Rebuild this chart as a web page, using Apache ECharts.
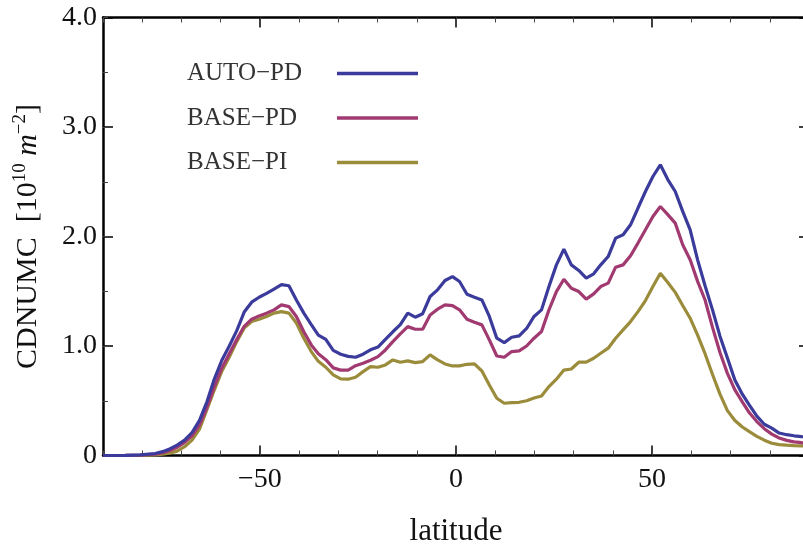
<!DOCTYPE html>
<html>
<head>
<meta charset="utf-8">
<script src="https://cdn.jsdelivr.net/npm/echarts@6/dist/echarts.min.js"></script>
<style>
html,body{margin:0;padding:0;background:#fff;overflow:hidden;}
#chart{width:803px;height:546px;}
</style>
</head>
<body>
<div id="chart"></div>
<script>
const lat = [-90, -84.3, -80.5, -76.7, -74.8, -73.0, -71.1, -69.2, -67.3, -65.4, -63.5, -61.6, -59.7, -57.8, -55.9, -54.0, -52.1, -50.2, -48.3, -46.4, -44.5, -42.6, -40.7, -38.8, -36.9, -35.1, -33.2, -31.3, -29.4, -27.5, -25.6, -23.7, -21.8, -19.9, -18.0, -16.1, -14.2, -12.3, -10.4, -8.5, -6.6, -4.7, -2.8, -0.9, 0.9, 2.8, 4.7, 6.6, 8.5, 10.4, 12.3, 14.2, 16.1, 18.0, 19.9, 21.8, 23.7, 25.6, 27.5, 29.4, 31.3, 33.2, 35.1, 36.9, 38.8, 40.7, 42.6, 44.5, 46.4, 48.3, 50.2, 52.1, 54.0, 55.9, 57.8, 59.7, 61.6, 63.5, 65.4, 67.3, 69.2, 71.1, 73.0, 74.8, 76.7, 78.6, 80.5, 82.4, 84.3, 86.2, 88.1, 90];

const autoPD = [0.0, 0.002, 0.006, 0.018, 0.035, 0.06, 0.095, 0.14, 0.21, 0.32, 0.49, 0.70, 0.87, 1.00, 1.14, 1.31, 1.40, 1.445, 1.48, 1.52, 1.56, 1.55, 1.42, 1.30, 1.195, 1.10, 1.06, 0.96, 0.925, 0.905, 0.897, 0.925, 0.965, 0.99, 1.06, 1.13, 1.195, 1.30, 1.263, 1.295, 1.452, 1.513, 1.598, 1.634, 1.589, 1.473, 1.446, 1.421, 1.27, 1.071, 1.031, 1.08, 1.092, 1.16, 1.27, 1.33, 1.543, 1.741, 1.885, 1.741, 1.69, 1.62, 1.659, 1.741, 1.817, 1.985, 2.016, 2.107, 2.26, 2.411, 2.548, 2.655, 2.52, 2.411, 2.229, 2.06, 1.787, 1.55, 1.33, 1.09, 0.89, 0.69, 0.56, 0.46, 0.36, 0.285, 0.25, 0.205, 0.19, 0.18, 0.172, 0.168];

const basePD = [0.0, 0.001, 0.004, 0.012, 0.025, 0.045, 0.075, 0.12, 0.18, 0.28, 0.44, 0.63, 0.80, 0.93, 1.06, 1.18, 1.245, 1.275, 1.30, 1.33, 1.376, 1.36, 1.27, 1.13, 1.01, 0.93, 0.875, 0.80, 0.78, 0.78, 0.82, 0.843, 0.87, 0.903, 0.964, 1.04, 1.11, 1.177, 1.153, 1.153, 1.284, 1.336, 1.376, 1.369, 1.33, 1.245, 1.217, 1.193, 1.056, 0.909, 0.897, 0.949, 0.955, 1.0, 1.071, 1.132, 1.33, 1.497, 1.61, 1.528, 1.497, 1.428, 1.476, 1.543, 1.574, 1.72, 1.741, 1.824, 1.94, 2.061, 2.183, 2.274, 2.20, 2.122, 1.924, 1.787, 1.59, 1.42, 1.17, 0.94, 0.75, 0.60, 0.49, 0.39, 0.31, 0.245, 0.195, 0.16, 0.138, 0.125, 0.117, 0.113];

const basePI = [0.0, 0.0, 0.002, 0.006, 0.012, 0.022, 0.04, 0.08, 0.14, 0.24, 0.42, 0.60, 0.77, 0.90, 1.04, 1.165, 1.223, 1.245, 1.27, 1.30, 1.314, 1.30, 1.21, 1.071, 0.949, 0.86, 0.806, 0.736, 0.70, 0.697, 0.715, 0.766, 0.812, 0.806, 0.827, 0.873, 0.852, 0.864, 0.848, 0.858, 0.919, 0.873, 0.836, 0.818, 0.818, 0.833, 0.836, 0.772, 0.644, 0.523, 0.477, 0.483, 0.486, 0.50, 0.525, 0.544, 0.629, 0.697, 0.78, 0.79, 0.852, 0.852, 0.888, 0.934, 0.98, 1.071, 1.147, 1.223, 1.314, 1.415, 1.543, 1.665, 1.58, 1.49, 1.37, 1.254, 1.10, 0.93, 0.74, 0.56, 0.41, 0.32, 0.26, 0.218, 0.175, 0.14, 0.112, 0.10, 0.094, 0.09, 0.088, 0.087];

const seriesNames = ['AUTO\u2212PD', 'BASE\u2212PD', 'BASE\u2212PI'];
const seriesColors = ['#3b3b9c', '#a03a70', '#9b8c3c'];
const xTickValues = [-50, 0, 50];
const xTickLabels = ['\u221250', '0', '50'];
const yTickValues = [0, 1, 2, 3, 4];
const yTickLabels = ['0', '1.0', '2.0', '3.0', '4.0'];

const FONT = '"Liberation Serif", "DejaVu Serif", serif';
const chart = echarts.init(document.getElementById('chart'), null, {renderer: 'canvas'});

function pairs(ys) { return lat.map((x, i) => [x, ys[i]]); }
const gridBox = {left: 103, top: 17.5, width: 706, height: 438, outerBoundsMode: 'none', containLabel: false};

const majorX = (pos, showLabel) => ({
  type: 'value', position: pos, min: -90, max: 90,
  axisLine: {show: true, onZero: false, lineStyle: {color: '#000', width: 2.5}},
  axisTick: {show: true, inside: true, length: 10, customValues: xTickValues, lineStyle: {color: '#000', width: 1.5}},
  axisLabel: {show: showLabel, customValues: xTickValues, margin: 10, fontFamily: FONT, fontSize: 28, color: '#111',
    formatter: v => { const i = xTickValues.indexOf(v); return i >= 0 ? xTickLabels[i] : ''; }},
  splitLine: {show: false},
  name: showLabel ? 'latitude' : '', nameLocation: 'middle', nameGap: 61,
  nameTextStyle: {fontFamily: FONT, fontSize: 31, color: '#111'}
});
const majorY = (pos, showLabel) => ({
  type: 'value', position: pos, min: 0, max: 4, interval: 1,
  axisLine: {show: true, onZero: false, lineStyle: {color: '#000', width: 2.5}},
  axisTick: {show: true, inside: true, length: 10, lineStyle: {color: '#000', width: 1.5}},
  axisLabel: {show: showLabel, margin: 6, fontFamily: FONT, fontSize: 28, color: '#111',
    formatter: v => { const i = yTickValues.indexOf(v); return i >= 0 ? yTickLabels[i] : ''; }},
  splitLine: {show: false},
  name: showLabel ? '{n|CDNUMC  [10}{s|10}{i| m}{s|\u22122}{n|]}' : '',
  nameLocation: 'middle', nameRotate: 90, nameGap: 58,
  nameTextStyle: {fontFamily: FONT, fontSize: 30, color: '#111',
    rich: {
      n: {fontFamily: FONT, fontSize: 30, color: '#111', lineHeight: 34},
      s: {fontFamily: FONT, fontSize: 19, color: '#111', verticalAlign: 'top', lineHeight: 34},
      i: {fontFamily: FONT, fontSize: 30, fontStyle: 'italic', color: '#111', lineHeight: 34}
    }}
});
const minorX = (pos) => ({
  type: 'value', position: pos, min: -90, max: 90, interval: 10,
  axisLine: {show: false, onZero: false}, axisLabel: {show: false}, splitLine: {show: false},
  axisTick: {show: true, inside: true, length: 5, lineStyle: {color: '#444', width: 1}}
});
const minorY = (pos) => ({
  type: 'value', position: pos, min: 0, max: 4, interval: 0.5,
  axisLine: {show: false, onZero: false}, axisLabel: {show: false}, splitLine: {show: false},
  axisTick: {show: true, inside: true, length: 5, lineStyle: {color: '#444', width: 1}}
});

const series = [basePI, basePD, autoPD].map((d, k) => {
  const idx = 2 - k;
  return {
    name: seriesNames[idx], type: 'line', xAxisIndex: 0, yAxisIndex: 0,
    data: pairs(d), symbol: 'none', smooth: false, animation: false,
    lineStyle: {color: seriesColors[idx], width: 3.2}, itemStyle: {color: seriesColors[idx]}, z: 3 + k
  };
});

chart.setOption({
  animation: false,
  backgroundColor: '#fff',
  grid: [Object.assign({}, gridBox), Object.assign({}, gridBox)],
  xAxis: [majorX('bottom', true), majorX('top', false), minorX('bottom'), minorX('top')].map((a, i) => Object.assign(a, {gridIndex: i < 2 ? 0 : 1})),
  yAxis: [majorY('left', true), majorY('right', false), minorY('left'), minorY('right')].map((a, i) => Object.assign(a, {gridIndex: i < 2 ? 0 : 1})),
  legend: {
    orient: 'vertical', left: 187, top: 61, padding: 0, align: 'right',
    icon: 'rect', itemWidth: 81, itemHeight: 3.5, itemGap: 19.5,
    data: seriesNames,
    formatter: n => '{t|' + n + '}',
    textStyle: {fontFamily: FONT, fontSize: 25, color: '#333',
      rich: {t: {width: 145, align: 'left', fontFamily: FONT, fontSize: 25, color: '#333', lineHeight: 24}}}
  },
  series: series
});
</script>
</body>
</html>
